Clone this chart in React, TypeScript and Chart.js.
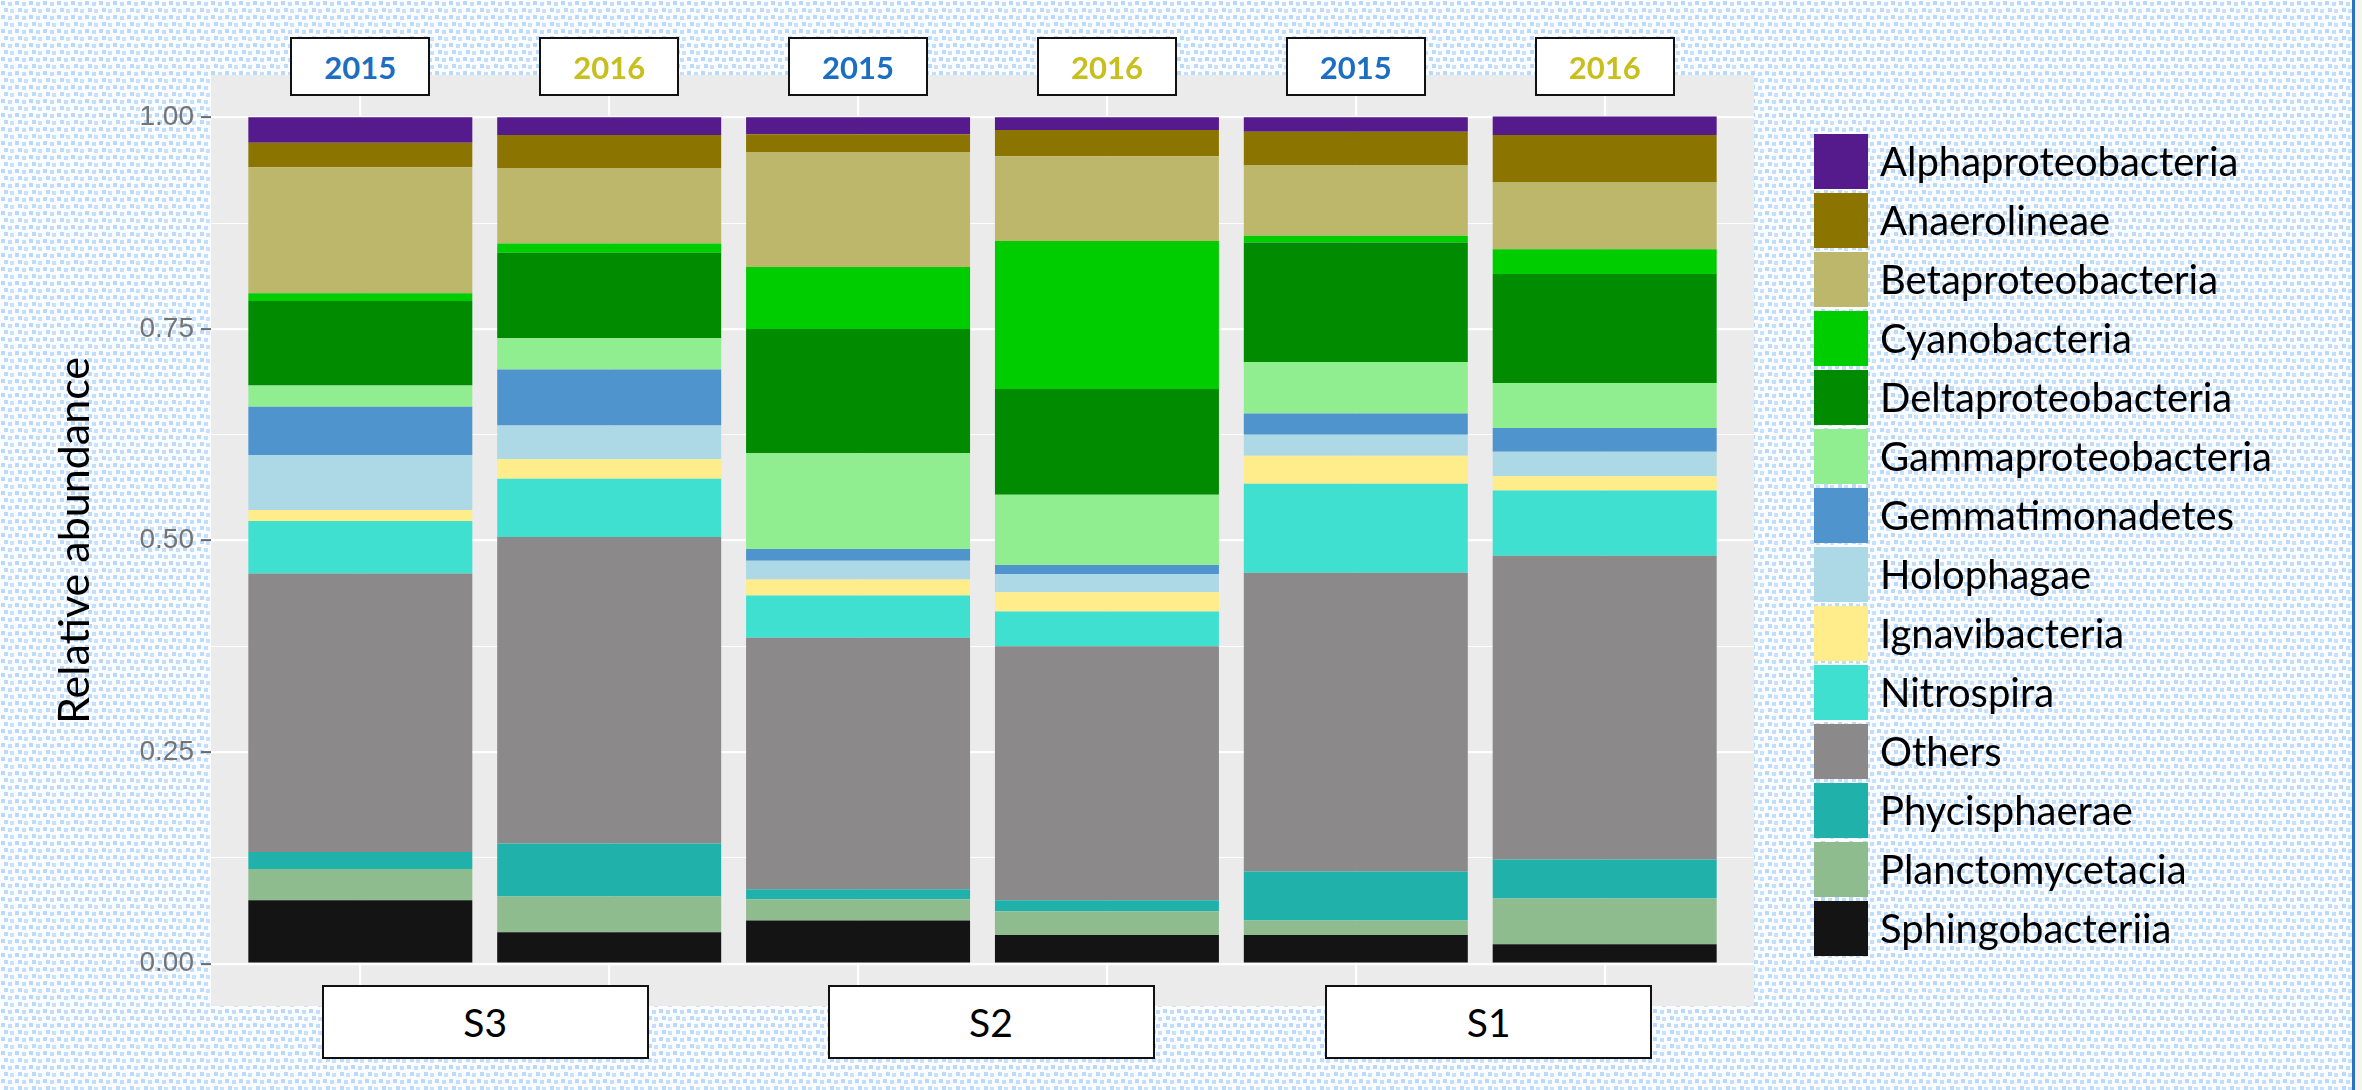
import React, { useEffect, useRef, useState } from 'react';
import { Chart, registerables } from 'chart.js';

Chart.register(...registerables);

// ---------- data ----------
const samples = ['S3 2015', 'S3 2016', 'S2 2015', 'S2 2016', 'S1 2015', 'S1 2016'];
const years = ['2015', '2016', '2015', '2016', '2015', '2016'];
const sites = ['S3', 'S2', 'S1'];

const taxa = [
  'Alphaproteobacteria',
  'Anaerolineae',
  'Betaproteobacteria',
  'Cyanobacteria',
  'Deltaproteobacteria',
  'Gammaproteobacteria',
  'Gemmatimonadetes',
  'Holophagae',
  'Ignavibacteria',
  'Nitrospira',
  'Others',
  'Phycisphaerae',
  'Planctomycetacia',
  'Sphingobacteriia',
];

const taxaColors = [
  '#551A8B',
  '#8B7500',
  '#BDB76B',
  '#00CD00',
  '#008B00',
  '#90EE90',
  '#4F94CD',
  '#ADD8E6',
  '#FFEC8B',
  '#40E0D0',
  '#8B8989',
  '#20B2AA',
  '#8FBC8F',
  '#141414',
];

const alphaproteobacteria = [0.030, 0.021, 0.020, 0.015, 0.017, 0.022];
const anaerolineae = [0.029, 0.039, 0.021, 0.031, 0.040, 0.056];
const betaproteobacteria = [0.149, 0.089, 0.136, 0.100, 0.083, 0.079];
const cyanobacteria = [0.009, 0.011, 0.073, 0.175, 0.008, 0.029];
const deltaproteobacteria = [0.100, 0.101, 0.147, 0.125, 0.141, 0.129];
const gammaproteobacteria = [0.025, 0.037, 0.113, 0.083, 0.061, 0.053];
const gemmatimonadetes = [0.057, 0.066, 0.014, 0.011, 0.025, 0.028];
const holophagae = [0.065, 0.040, 0.022, 0.021, 0.025, 0.029];
const ignavibacteria = [0.013, 0.023, 0.019, 0.023, 0.033, 0.017];
const nitrospira = [0.062, 0.069, 0.050, 0.041, 0.105, 0.077];
const others = [0.329, 0.362, 0.297, 0.300, 0.353, 0.359];
const phycisphaerae = [0.020, 0.0625, 0.012, 0.013, 0.058, 0.046];
const planctomycetacia = [0.037, 0.0425, 0.025, 0.028, 0.017, 0.054];
const sphingobacteriia = [0.075, 0.037, 0.051, 0.034, 0.034, 0.023];

const series = [
  alphaproteobacteria,
  anaerolineae,
  betaproteobacteria,
  cyanobacteria,
  deltaproteobacteria,
  gammaproteobacteria,
  gemmatimonadetes,
  holophagae,
  ignavibacteria,
  nitrospira,
  others,
  phycisphaerae,
  planctomycetacia,
  sphingobacteriia,
];

const yGridValues = [0, 0.125, 0.25, 0.375, 0.5, 0.625, 0.75, 0.875, 1];
const yTickLabels = [0, 0.25, 0.5, 0.75, 1];

// ---------- layout constants ----------
const W = 2362;
const H = 1090;
const PANEL = { left: 211, right: 1754, top: 75, bottom: 1006 };
const yearColors: Record<string, string> = { '2015': '#1B6EC2', '2016': '#C8BE1C' };
const TEXT_FONT = 'Lato, "Open Sans", sans-serif';

const isMajor = (v: number) => yTickLabels.some((t) => Math.abs(t - v) < 1e-9);

const tileSvg =
  "<svg xmlns='http://www.w3.org/2000/svg' width='14' height='14'>" +
  "<rect width='14' height='14' fill='#fafcff'/>" +
  "<rect x='1' y='1' width='4' height='4' fill='#b8d9fa'/>" +
  "<rect x='8' y='2' width='4' height='4' fill='#c2defb'/>" +
  "<rect x='4' y='8' width='4' height='4' fill='#bcdbfa'/>" +
  "<rect x='10' y='9' width='4' height='4' fill='#c8e2fb'/>" +
  '</svg>';
const patternBg = `url("data:image/svg+xml,${encodeURIComponent(tileSvg)}")`;

const panelBgPlugin = {
  id: 'panelBg',
  beforeDraw(chart: any) {
    const { ctx, chartArea: a } = chart;
    ctx.save();
    ctx.fillStyle = '#EBEBEB';
    ctx.fillRect(a.left, a.top, a.right - a.left, a.bottom - a.top);
    ctx.restore();
  },
};

export default function App() {
  const canvasRef = useRef<HTMLCanvasElement | null>(null);
  const [centers, setCenters] = useState<number[]>([]);

  useEffect(() => {
    document.body.style.margin = '0';
    const canvas = canvasRef.current;
    if (!canvas) return;

    const datasets = taxa
      .map((name, i) => ({
        label: name,
        data: series[i].map((v, j) => ({ x: j + 1, y: v })),
        backgroundColor: taxaColors[i],
        borderWidth: 0,
        barPercentage: 0.9,
        categoryPercentage: 1,
      }))
      .reverse();

    const chart = new Chart(canvas, {
      type: 'bar',
      data: { datasets },
      plugins: [panelBgPlugin],
      options: {
        responsive: false,
        animation: false,
        events: [],
        layout: {
          padding: {
            left: 0,
            top: PANEL.top,
            right: W - PANEL.right,
            bottom: H - PANEL.bottom,
          },
        },
        plugins: {
          legend: { display: false },
          tooltip: { enabled: false },
        },
        scales: {
          x: {
            type: 'linear',
            min: 0.4,
            max: 6.6,
            offset: false,
            stacked: true,
            afterBuildTicks: (s: any) => {
              s.ticks = samples.map((_, i) => ({ value: i + 1 }));
            },
            afterFit: (s: any) => {
              s.height = 0;
            },
            grid: { color: '#FFFFFF', lineWidth: 2.2, drawTicks: false, offset: false },
            border: { display: false },
            ticks: { display: false },
          },
          y: {
            type: 'linear',
            min: -0.05,
            max: 1.05,
            stacked: true,
            afterBuildTicks: (s: any) => {
              s.ticks = yGridValues.map((v) => ({ value: v }));
            },
            afterFit: (s: any) => {
              s.width = PANEL.left;
            },
            grid: {
              color: '#FFFFFF',
              lineWidth: (c: any) => (isMajor(c.tick.value) ? 2.2 : 1.1),
              drawTicks: true,
              tickLength: 10,
              tickWidth: 2,
              tickColor: (c: any) => (isMajor(c.tick.value) ? '#6a6a6a' : 'rgba(0,0,0,0)'),
            },
            border: { display: false },
            ticks: {
              autoSkip: false,
              padding: 7,
              color: '#747474',
              font: { family: '"Liberation Sans", Arial, sans-serif', size: 28 },
              callback: (v: any) => (isMajor(Number(v)) ? Number(v).toFixed(2) : ''),
            },
            title: {
              display: true,
              text: 'Relative abundance',
              color: '#000000',
              font: { family: TEXT_FONT, size: 43 },
              padding: { top: 49, bottom: 0 },
            },
          },
        },
      } as any,
    });

    const xs: any = chart.scales.x;
    setCenters(samples.map((_, i) => xs.getPixelForValue(i + 1)));

    return () => {
      chart.destroy();
    };
  }, []);

  const siteCenters = sites.map((_, k) =>
    centers.length ? (centers[2 * k] + centers[2 * k + 1]) / 2 + (k === 0 ? 0 : 8) : 0
  );

  return (
    <div
      style={{
        position: 'absolute',
        left: 0,
        top: 0,
        width: W,
        height: H,
        overflow: 'hidden',
        backgroundColor: '#e2effb',
        backgroundImage: patternBg,
        fontFamily: TEXT_FONT,
      }}
    >
      <canvas
        ref={canvasRef}
        width={W}
        height={H}
        style={{ position: 'absolute', left: 0, top: 0, width: W, height: H }}
      />

      {centers.map((cx, i) => (
        <div
          key={'yr' + i}
          style={{
            position: 'absolute',
            left: cx - 70,
            top: 37,
            width: 140,
            height: 59,
            boxSizing: 'border-box',
            border: '2px solid #111',
            background: '#fff',
            display: 'flex',
            alignItems: 'center',
            justifyContent: 'center',
            fontWeight: 700,
            fontSize: 31,
            color: yearColors[years[i]],
          }}
        >
          {years[i]}
        </div>
      ))}

      {centers.length > 0 &&
        sites.map((s, k) => (
          <div
            key={'site' + k}
            style={{
              position: 'absolute',
              left: siteCenters[k] - 163,
              top: 985,
              width: 327,
              height: 74,
              boxSizing: 'border-box',
              border: '2px solid #111',
              background: '#fff',
              display: 'flex',
              alignItems: 'center',
              justifyContent: 'center',
              fontSize: 39,
              color: '#000',
            }}
          >
            {s}
          </div>
        ))}

      <div style={{ position: 'absolute', left: 1814, top: 132 }}>
        {taxa.map((name, i) => (
          <div
            key={name}
            style={{
              position: 'absolute',
              left: 0,
              top: i * 59,
              height: 59,
              width: 520,
              display: 'flex',
              alignItems: 'center',
            }}
          >
            <div
              style={{
                width: 54,
                height: 55,
                background: taxaColors[i],
                flex: '0 0 auto',
              }}
            />
            <div
              style={{
                marginLeft: 12,
                fontSize: 40,
                color: '#000',
                whiteSpace: 'nowrap',
                lineHeight: '59px',
              }}
            >
              {name}
            </div>
          </div>
        ))}
      </div>

      <div style={{ position: 'absolute', left: 2352, top: 0, width: 3, height: H, background: '#2A72C4' }} />
      <div style={{ position: 'absolute', left: 2355, top: 0, width: 7, height: H, background: '#F8F4F2' }} />
    </div>
  );
}
